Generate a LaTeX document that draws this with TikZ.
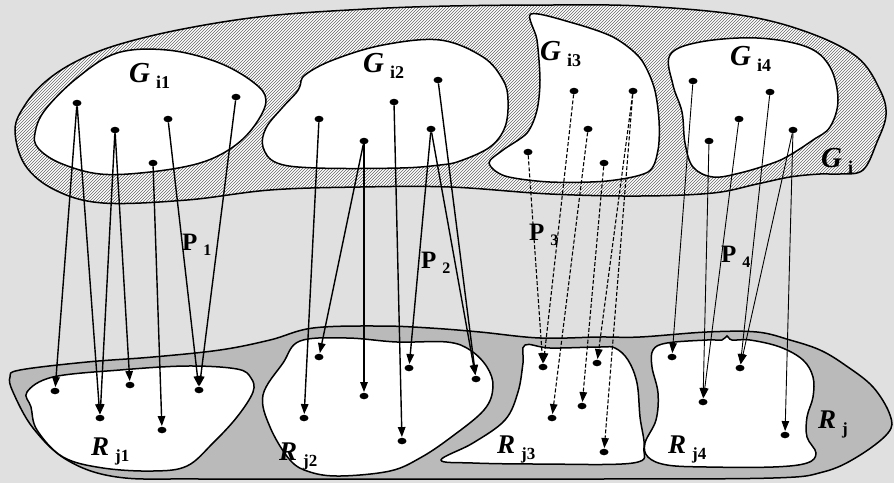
\documentclass[tikz,border=0pt]{standalone}
\usepackage{fontspec}
\setmainfont{Liberation Serif}
\usetikzlibrary{arrows.meta,shapes.geometric,patterns}
\newcommand\glab[2]{{\fontsize{29}{29}\selectfont\bfseries\itshape #1}\hspace{6pt}\raisebox{-6pt}{\fontsize{18}{18}\selectfont\bfseries #2}}
\newcommand\rlab[2]{{\fontsize{27}{27}\selectfont\bfseries\itshape #1}\hspace{6pt}\raisebox{-6pt}{\fontsize{17}{17}\selectfont\bfseries #2}}
\newcommand\plab[1]{{\fontsize{25}{25}\selectfont\bfseries P}\hspace{6pt}\raisebox{-5pt}{\fontsize{16}{16}\selectfont\bfseries #1}}
\tikzset{
  dot/.style={ellipse, fill=black, inner sep=0pt, minimum width=9pt, minimum height=6.5pt},
  lab/.style={inner sep=0pt, anchor=base west},
  arr/.style={-{Triangle[length=10pt,width=7.5pt]}, line width=1.4pt, shorten >=0.5pt},
  darr/.style={arr, line width=1.1pt, dash pattern=on 4pt off 2pt},
  tarr/.style={arr, line width=0.9pt},
  blob/.style={line width=1.5pt},
}
\begin{document}
\begin{tikzpicture}[x=1pt,y=-1pt]
\fill[black!12] (0,0) rectangle (894,483);
\useasboundingbox (0,0) rectangle (894,483);
% ---------- G_i (hatched) ----------
\def\Gout{plot[smooth cycle, tension=0.6] coordinates {(15,130) (25,105) (45,82) (75,62) (117,45) (183,29) (267,16) (367,9) (450,6) (550,5) (640,6) (740,15) (807,32) (857,57) (880,90) (886,115) (877,142) (863,170) (840,174) (820,174) (790,177) (757,184) (713,193) (640,196) (550,194) (450,187) (360,187) (270,190) (187,200) (103,203) (55,190) (25,165)}}
\fill[white] \Gout;
\fill[pattern=north east lines, pattern color=black!60] \Gout;
\draw[blob] \Gout;
\draw[blob, fill=white] plot[smooth cycle, tension=0.6] coordinates {(35,133) (45,110) (77,78) (117,53) (167,50) (217,62) (253,82) (266,100) (255,125) (233,147) (200,163) (150,172) (100,174) (60,163) (38,148)};
\draw[blob, fill=white] plot[smooth cycle, tension=0.6] coordinates {(305,75) (333,60) (383,45) (440,40) (483,57) (503,80) (508,100) (505,127) (490,147) (460,161) (440,165) (400,168) (317,168) (277,163) (263,147) (266,128) (282,108) (296,93) (300,86)};
\draw[blob, fill=white] plot[smooth cycle, tension=0.5] coordinates {(531,14) (573,23) (613,37) (640,58) (654,87) (659,120) (658,150) (648,172) (607,181) (550,182) (505,176) (489,163) (503,150) (527,133) (537,110) (540,80) (537,40)};
\draw[blob, fill=white] plot[smooth cycle, tension=0.6] coordinates {(670,55) (700,42) (757,38) (807,47) (830,67) (838,100) (830,127) (813,140) (790,155) (773,163) (740,173) (713,177) (693,167) (685,143) (682,112) (673,85)};
% ---------- R_j (stippled) ----------
\draw[blob, fill=black!27] plot[smooth cycle, tension=0.6] coordinates {(10,377) (20,370) (87,362) (153,357) (220,350) (270,340) (313,328) (380,326) (430,328) (480,332) (540,338) (600,337) (640,337) (707,332) (757,332) (790,340) (820,350) (845,365) (873,387) (890,415) (888,433) (857,457) (823,472) (773,478) (600,479) (400,479) (200,479) (117,477) (67,460) (33,428) (13,392)};
\draw[blob, fill=white] plot[smooth cycle, tension=0.6] coordinates {(27,392) (53,377) (120,370) (187,366) (237,369) (251,378) (253,392) (237,417) (213,443) (187,466) (153,471) (103,468) (63,457) (37,430) (31,407)};
\draw[blob, fill=white] plot[smooth cycle, tension=0.6] coordinates {(300,341) (347,338) (397,342) (447,342) (470,350) (487,367) (493,387) (484,410) (450,438) (420,458) (390,471) (340,476) (310,472) (290,460) (270,427) (263,395) (283,363)};
\draw[blob, fill=white] plot[smooth cycle, tension=0.6] coordinates {(525,345) (550,348) (600,347) (615,348) (628,360) (637,383) (640,417) (644,448) (633,463) (540,464) (473,463) (441,460) (473,443) (505,420) (518,392) (523,363)};
\draw[blob, fill=white] plot[smooth cycle, tension=0.6] coordinates {(653,350) (667,343) (707,340) (722,340) (727,336) (732,340) (750,340) (780,347) (803,360) (813,377) (813,397) (807,417) (807,437) (816,453) (807,463) (773,467) (707,467) (667,465) (648,457) (645,443) (656,420) (658,393) (652,367)};
% ---------- labels ----------
\node[lab] (Gi1) at (129,82) {\glab{G}{i1}};
\node[lab] (Gi2) at (363,72) {\glab{G}{i2}};
\node[lab] (Gi3) at (540,60) {\glab{G}{i3}};
\node[lab] (Gi4) at (730,65) {\glab{G}{i4}};
\node[lab] (Gi) at (821,167) {\glab{G}{i}};
\node[lab] (Rj1) at (91,455) {\rlab{R}{j1}};
\node[lab] (Rj2) at (279,460) {\rlab{R}{j2}};
\node[lab] (Rj3) at (497,453) {\rlab{R}{j3}};
\node[lab] (Rj4) at (668,453) {\rlab{R}{j4}};
\node[lab] (Rj) at (818,428) {\rlab{R}{j}};
\node[lab] (P1) at (182,250) {\plab{1}};
\node[lab] (P2) at (421,268) {\plab{2}};
\node[lab] (P3) at (529,240) {\plab{3}};
\node[lab] (P4) at (721,262) {\plab{4}};
% ---------- source points ----------
\node[dot] (a1) at (77,103) {};
\node[dot] (a2) at (115,130) {};
\node[dot] (a3) at (168,119) {};
\node[dot] (a4) at (153,163) {};
\node[dot] (a5) at (236,97) {};
\node[dot] (b1) at (319,119) {};
\node[dot] (b2) at (364,141) {};
\node[dot] (b3) at (394,102) {};
\node[dot] (b4) at (431,129) {};
\node[dot] (b5) at (438,80) {};
\node[dot] (c1) at (528,152) {};
\node[dot] (c2) at (574,91) {};
\node[dot] (c3) at (588,129) {};
\node[dot] (c4) at (604,163) {};
\node[dot] (c5) at (633,91) {};
\node[dot] (d1) at (693,81) {};
\node[dot] (d2) at (770,92) {};
\node[dot] (d3) at (739,119) {};
\node[dot] (d4) at (709,141) {};
\node[dot] (d5) at (793,130) {};
% ---------- target points ----------
\node[dot] (r1) at (55,391) {};
\node[dot] (r2) at (100,418) {};
\node[dot] (r3) at (130,385) {};
\node[dot] (r4) at (162,430) {};
\node[dot] (r5) at (199,390) {};
\node[dot] (s1) at (319,357) {};
\node[dot] (s2) at (304,418) {};
\node[dot] (s3) at (364,396) {};
\node[dot] (s4) at (409,368) {};
\node[dot] (s5) at (402,441) {};
\node[dot] (s6) at (476,379) {};
\node[dot] (t1) at (543,367) {};
\node[dot] (t2) at (552,418) {};
\node[dot] (t3) at (582,406) {};
\node[dot] (t4) at (597,363) {};
\node[dot] (t5) at (604,452) {};
\node[dot] (u1) at (672,357) {};
\node[dot] (u2) at (703,402) {};
\node[dot] (u3) at (740,368) {};
\node[dot] (u4) at (785,435) {};
% ---------- mappings ----------
\foreach \s/\t in {a1/r1,a1/r2,a2/r2,a2/r3,a4/r4,a3/r5,a5/r5,b1/s2,b2/s1,b2/s3,b3/s5,b4/s4,b4/s6,b5/s6}
  \draw[arr] (\s) -- (\t);
\foreach \s/\t in {c1/t1,c2/t1,c3/t2,c4/t3,c5/t4,c5/t5}
  \draw[darr] (\s) -- (\t);
\foreach \s/\t in {d1/u1,d4/u2,d3/u2,d2/u3,d5/u3,d5/u4}
  \draw[tarr] (\s) -- (\t);
\end{tikzpicture}
\end{document}
